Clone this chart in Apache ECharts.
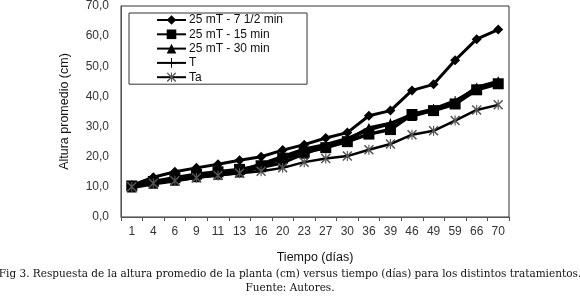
<!DOCTYPE html>
<html>
<head>
<meta charset="utf-8">
<script src="https://cdn.jsdelivr.net/npm/echarts@6/dist/echarts.min.js"></script>
<style>
  html, body { margin: 0; padding: 0; background: #fff; }
  #chart { width: 580px; height: 297px; }
</style>
</head>
<body>
<div id="chart"></div>
<script>
// days on the x axis
const dias = ['1', '4', '6', '9', '11', '13', '16', '20', '23', '27', '30', '36', '39', '46', '49', '59', '66', '70']

// mean plant height (cm) per treatment
const mt7 = [10.5, 13.2, 15.0, 16.3, 17.5, 18.8, 20.0, 22.2, 24.0, 26.2, 28.0, 33.6, 35.3, 42.0, 44.0, 52.0, 59.0, 62.2]
const mt15 = [10.3, 11.8, 13.0, 14.2, 15.0, 15.8, 17.0, 19.5, 21.5, 23.0, 25.0, 27.5, 29.0, 34.0, 35.3, 37.5, 42.2, 44.2]
const mt30 = [9.8, 11.0, 12.0, 13.2, 14.0, 14.8, 16.5, 18.0, 21.0, 23.5, 25.5, 29.5, 31.0, 33.5, 35.5, 38.0, 43.0, 45.0]
const tT = [10.0, 11.5, 12.5, 13.8, 14.5, 15.3, 17.5, 20.0, 22.5, 24.0, 26.0, 29.0, 31.0, 34.0, 35.8, 38.5, 42.5, 44.5]
const tTa = [10.0, 11.2, 12.0, 13.0, 13.8, 14.5, 15.2, 16.3, 18.2, 19.4, 20.2, 22.3, 24.2, 27.3, 28.6, 32.0, 35.5, 37.2]

const nombres = ['25 mT - 7 1/2 min', '25 mT - 15 min', '25 mT - 30 min', 'T', 'Ta']

const plusPath = 'path://M9,0 h2 v9 h9 v2 h-9 v9 h-2 v-9 h-9 v-2 h9 z'
const starPath = 'path://M9,0 h2 v20 h-2 z M1,2 L3,0 L19,18 L17,20 z M17,0 L19,2 L3,20 L1,18 z'

const chart = echarts.init(document.getElementById('chart'))

function serie(name, data, symbol, size, width, symColor) {
  return {
    name, type: 'line', data,
    symbol, symbolSize: size,
    lineStyle: { color: '#000', width },
    itemStyle: { color: symColor || '#000' },
    emphasis: { disabled: true },
    animation: false
  }
}

const captionStyle = { fontFamily: 'DejaVu Serif', fontSize: 10.5, fontWeight: 'normal', color: '#111' }

chart.setOption({
  animation: false,
  textStyle: { fontFamily: 'Liberation Sans' },
  title: [
    {
      text: 'Fig 3. Respuesta de la altura promedio de la planta (cm) versus tiempo (días) para los distintos tratamientos.',
      left: 'center', top: 269, padding: 0,
      textStyle: captionStyle
    },
    {
      text: 'Fuente: Autores.',
      left: 'center', top: 283, padding: 0,
      textStyle: captionStyle
    }
  ],
  grid: {
    left: 121, right: 71, top: 4, bottom: 80,
    show: true, borderColor: '#333', borderWidth: 1
  },
  legend: {
    orient: 'vertical',
    left: 129, top: 13,
    data: nombres,
    itemWidth: 29, itemHeight: 12, itemGap: 2.3,
    padding: [1, 24, 1, 27],
    borderColor: '#333', borderWidth: 1,
    textStyle: { fontSize: 12, color: '#111', padding: [0, 0, 0, -2] }
  },
  xAxis: {
    type: 'category',
    data: dias,
    boundaryGap: true,
    name: 'Tiempo (días)',
    nameLocation: 'middle',
    nameGap: 34,
    nameTextStyle: { fontSize: 12.5, color: '#111' },
    axisLine: { lineStyle: { color: '#555' } },
    axisTick: { show: true, length: 4, interval: 0, lineStyle: { color: '#555' } },
    axisLabel: { interval: 0, fontSize: 12, color: '#333', margin: 9 }
  },
  yAxis: {
    type: 'value',
    min: 0, max: 70, interval: 10,
    name: 'Altura promedio (cm)',
    nameLocation: 'middle',
    nameGap: 50,
    nameTextStyle: { fontSize: 12.5, color: '#111' },
    splitLine: { show: false },
    axisLine: { show: true, lineStyle: { color: '#555' } },
    axisTick: { show: false },
    axisLabel: { fontSize: 12, color: '#333', margin: 12, formatter: v => v.toFixed(1).replace('.', ',') }
  },
  series: [
    serie(nombres[0], mt7, 'diamond', 10, 3),
    serie(nombres[1], mt15, 'rect', 11, 3.5),
    serie(nombres[2], mt30, 'triangle', 10, 3.5),
    serie(nombres[3], tT, plusPath, 10, 3.5),
    serie(nombres[4], tTa, starPath, 10, 2.5, '#555')
  ]
})
</script>
</body>
</html>
